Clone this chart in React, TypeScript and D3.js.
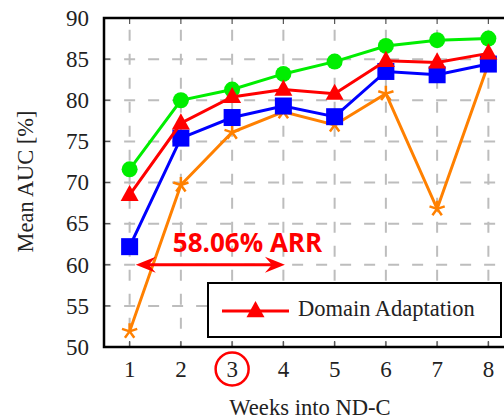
import React from 'react';
import * as d3 from 'd3';

// weeks into ND-C and mean AUC [%] per method
const weeks = [1, 2, 3, 4, 5, 6, 7, 8];
const greenSeries = [71.6, 80.0, 81.3, 83.2, 84.7, 86.6, 87.3, 87.5];
const redSeries = [68.5, 77.2, 80.4, 81.3, 80.8, 84.8, 84.6, 85.7];
const blueSeries = [62.2, 75.4, 77.9, 79.3, 78.0, 83.5, 83.1, 84.4];
const orangeSeries = [51.9, 69.7, 76.1, 78.6, 77.0, 80.8, 66.8, 84.4];
const yTicks = [50, 55, 60, 65, 70, 75, 80, 85, 90];
const legendLabel = 'Domain Adaptation';
const arrowWeeks = [1.12, 4.03];
const arrowLevel = 60;
const arrowText = '58.06% ARR';
const circledWeek = 3;

const W = 504;
const H = 420;
const serif = '"Liberation Serif", "Times New Roman", serif';

const x = d3.scaleLinear().domain([0.5, 8.5]).range([104, 514]);
const y = d3.scaleLinear().domain([50, 90]).range([347, 18]);

const DASH = 11;
const GAP = 13;
const PERIOD = DASH + GAP;

// offset so that a dash is centred on a given coordinate
const dashOffset = (start: number, center: number) => {
  const d = (center - DASH / 2 - start) % PERIOD;
  return -d;
};

const line = d3
  .line<number>()
  .x((_, i) => x(weeks[i]))
  .y(d => y(d));

const starPath = (r: number) => {
  let p = '';
  for (let k = 0; k < 5; k++) {
    const a = -Math.PI / 2 + (k * 2 * Math.PI) / 5;
    p += `M0,0L${(r * Math.cos(a)).toFixed(2)},${(r * Math.sin(a)).toFixed(2)}`;
  }
  return p;
};

const triPath = (s: number) => {
  const h = s * 0.9;
  return `M0,${-h * 0.62}L${s / 2},${h * 0.38}L${-s / 2},${h * 0.38}Z`;
};

const arrowHead = (tipX: number, tipY: number, dir: number) => {
  const L = 20;
  const Wd = 8;
  const n = 13;
  return `M${tipX},${tipY}L${tipX - dir * L},${tipY - Wd}L${tipX - dir * n},${tipY}L${tipX - dir * L},${tipY + Wd}Z`;
};

const Marker = ({ kind, color }: { kind: string; color: string }) => {
  if (kind === 'circle') return <circle r={8} fill={color} />;
  if (kind === 'square') return <rect x={-8.5} y={-8.5} width={17} height={17} fill={color} />;
  if (kind === 'triangle') return <path d={triPath(18)} fill={color} />;
  return <path d={starPath(8)} stroke={color} strokeWidth={2.5} fill="none" />;
};

const series = [
  { values: orangeSeries, color: '#ff8000', kind: 'star' },
  { values: blueSeries, color: '#0000ff', kind: 'square' },
  { values: greenSeries, color: '#00ee00', kind: 'circle' },
  { values: redSeries, color: '#ff0000', kind: 'triangle' },
];

export default function App() {
  const [x0, x1] = x.range();
  const [y0, y1] = y.range();
  const ax0 = x(arrowWeeks[0]);
  const ax1 = x(arrowWeeks[1]);
  const ay = y(arrowLevel);

  return (
    <svg
      width={W}
      height={H}
      style={{ position: 'absolute', left: 0, top: 0, background: '#fff' }}
    >
      <rect width={W} height={H} fill="#fff" />

      {/* grid */}
      <g stroke="#bdbdbd" strokeWidth={2} strokeDasharray={`${DASH} ${GAP}`}>
        {yTicks.slice(1, -1).map(t => (
          <line
            key={'h' + t}
            x1={x0}
            x2={x1}
            y1={y(t)}
            y2={y(t)}
            strokeDashoffset={dashOffset(x0, x(1))}
          />
        ))}
        {weeks.map(w => (
          <line
            key={'v' + w}
            x1={x(w)}
            x2={x(w)}
            y1={y1}
            y2={y0}
            strokeDashoffset={dashOffset(y1, y(85))}
          />
        ))}
      </g>

      {/* inner ticks */}
      <g stroke="#555" strokeWidth={1.2}>
        {yTicks.map(t => (
          <g key={'ty' + t}>
            <line x1={x0} x2={x0 + 6} y1={y(t)} y2={y(t)} />
            <line x1={x1} x2={x1 - 6} y1={y(t)} y2={y(t)} />
          </g>
        ))}
        {weeks.map(w => (
          <g key={'tx' + w}>
            <line x1={x(w)} x2={x(w)} y1={y0} y2={y0 - 6} />
            <line x1={x(w)} x2={x(w)} y1={y1} y2={y1 + 6} />
          </g>
        ))}
      </g>

      {/* series */}
      {series.map(s => (
        <g key={s.color}>
          <path d={line(s.values) || ''} fill="none" stroke={s.color} strokeWidth={3} />
          {s.values.map((v, i) => (
            <g key={i} transform={`translate(${x(weeks[i])},${y(v)})`}>
              <Marker kind={s.kind} color={s.color} />
            </g>
          ))}
        </g>
      ))}

      {/* axis box */}
      <rect
        x={x0}
        y={y1}
        width={x1 - x0}
        height={y0 - y1}
        fill="none"
        stroke="#000"
        strokeWidth={2.5}
      />

      {/* tick labels */}
      <g fontFamily={serif} fontSize={23} fill="#222">
        {yTicks.map(t => (
          <text key={'ly' + t} x={89} y={y(t) + 7.8} textAnchor="end">
            {t}
          </text>
        ))}
        {weeks.map(w => (
          <text key={'lx' + w} x={x(w)} y={377} textAnchor="middle">
            {w}
          </text>
        ))}
      </g>

      {/* axis titles */}
      <text x={310} y={415} textAnchor="middle" fontFamily={serif} fontSize={22.6} fill="#222">
        Weeks into ND-C
      </text>
      <text
        transform="translate(33,181.5) rotate(-90)"
        textAnchor="middle"
        fontFamily={serif}
        fontSize={22.4}
        fill="#222"
      >
        Mean AUC [%]
      </text>

      {/* annotation */}
      <line x1={ax0 + 10} x2={ax1 - 10} y1={ay} y2={ay} stroke="#ff0000" strokeWidth={3} />
      <path d={arrowHead(ax0, ay, -1)} fill="#ff0000" />
      <path d={arrowHead(ax1, ay, 1)} fill="#ff0000" />
      <text
        x={247.5}
        y={252}
        textAnchor="middle"
        fontFamily='"Open Sans", sans-serif'
        fontWeight="bold"
        fontSize={26}
        fill="#ff0000"
      >
        {arrowText}
      </text>
      <circle cx={x(circledWeek)} cy={369} r={16.5} fill="none" stroke="#ff0000" strokeWidth={2.5} />

      {/* legend */}
      <g>
        <rect x={208} y={283} width={293} height={54} fill="#fff" stroke="#000" strokeWidth={2} />
        <line x1={222} x2={289} y1={311} y2={311} stroke="#ff0000" strokeWidth={3} />
        <g transform="translate(255.5,311)">
          <Marker kind="triangle" color="#ff0000" />
        </g>
        <text x={298} y={316} fontFamily={serif} fontSize={22.5} fill="#222">
          {legendLabel}
        </text>
      </g>
    </svg>
  );
}
